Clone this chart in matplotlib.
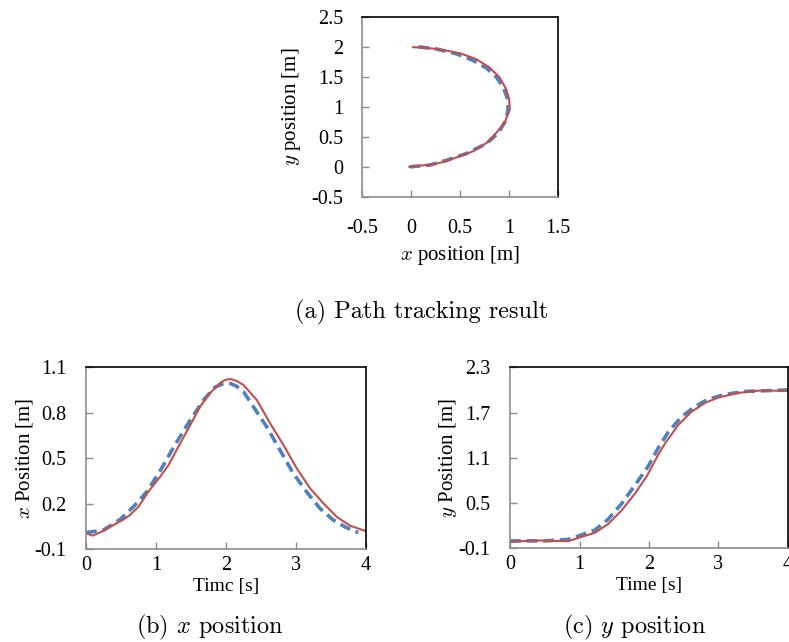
import numpy as np
import matplotlib
matplotlib.use("Agg")
import matplotlib.pyplot as plt

plt.rcParams['font.family'] = ['Liberation Serif', 'DejaVu Serif']
plt.rcParams['mathtext.fontset'] = 'cm'
plt.rcParams['axes.unicode_minus'] = False

RED = '#C0504D'
BLUE = '#4F81BD'
GREY = '#8c8c8c'

# (a) path: reference (dashed) and measured (solid)
path_ref_x = [-0.017, 0.19, 0.36, 0.56, 0.77, 0.89, 0.965, 0.99, 0.98, 0.94, 0.87, 0.77, 0.63, 0.46, 0.256, 0.05]
path_ref_y = [0.0, 0.03, 0.11, 0.22, 0.39, 0.57, 0.77, 0.96, 1.16, 1.33, 1.50, 1.65, 1.78, 1.89, 1.97, 2.01]
path_act_x = [-0.02, 0.085, 0.22, 0.36, 0.495, 0.63, 0.77, 0.87, 0.955, 1.007, 1.0, 0.97, 0.90, 0.80, 0.665, 0.495, 0.32, 0.154, 0.017]
path_act_y = [0.0, 0.02, 0.04, 0.095, 0.18, 0.26, 0.40, 0.57, 0.74, 0.96, 1.13, 1.30, 1.50, 1.66, 1.80, 1.90, 1.955, 1.99, 2.0]

# (b) x position vs time
xr_t = [0.0, 0.25, 0.49, 0.68, 0.87, 1.08, 1.27, 1.49, 1.68, 1.84, 1.95, 2.01, 2.06, 2.15, 2.25, 2.39, 2.58, 2.77, 2.96, 3.15, 3.34, 3.53, 3.72, 3.89]
xr_v = [0.008, 0.025, 0.096, 0.18, 0.278, 0.433, 0.587, 0.752, 0.884, 0.968, 0.99, 0.996, 0.994, 0.975, 0.939, 0.84, 0.708, 0.554, 0.40, 0.278, 0.169, 0.092, 0.041, 0.008]
xa_t = [0.0, 0.095, 0.25, 0.39, 0.52, 0.63, 0.75, 0.89, 1.06, 1.18, 1.32, 1.49, 1.63, 1.77, 1.91, 1.98, 2.06, 2.15, 2.25, 2.44, 2.63, 2.82, 3.01, 3.2, 3.39, 3.58, 3.77, 3.99]
xa_v = [0.004, -0.012, 0.02, 0.058, 0.09, 0.125, 0.179, 0.278, 0.378, 0.455, 0.576, 0.719, 0.84, 0.928, 0.995, 1.015, 1.023, 1.01, 0.983, 0.884, 0.73, 0.587, 0.433, 0.301, 0.202, 0.113, 0.054, 0.019]

# (c) y position vs time
yr_t = [0.0, 0.5, 0.84, 1.03, 1.22, 1.41, 1.61, 1.80, 1.99, 2.13, 2.28, 2.47, 2.66, 2.85, 3.09, 3.38, 4.0]
yr_v = [0.0, 0.0, 0.02, 0.08, 0.143, 0.285, 0.497, 0.74, 0.99, 1.226, 1.446, 1.645, 1.78, 1.876, 1.94, 1.98, 2.0]
ya_t = [0.0, 0.36, 0.84, 1.03, 1.22, 1.41, 1.61, 1.80, 1.97, 2.13, 2.23, 2.42, 2.61, 2.81, 3.0, 3.28, 3.57, 4.0]
ya_v = [-0.012, 0.006, -0.003, 0.054, 0.107, 0.222, 0.408, 0.63, 0.86, 1.137, 1.29, 1.535, 1.71, 1.83, 1.90, 1.96, 1.99, 1.99]


def style_axes(ax, xpad, ypad):
    for s in ('left', 'bottom'):
        ax.spines[s].set_color(GREY)
        ax.spines[s].set_linewidth(1.2)
    for s in ('top', 'right'):
        ax.spines[s].set_color('black')
        ax.spines[s].set_linewidth(1.2)
    ax.tick_params(direction='in', length=5, width=1.0, color=GREY, labelsize=14.5)
    ax.tick_params(axis='x', pad=xpad)
    ax.tick_params(axis='y', pad=ypad)


fig = plt.figure(figsize=(7.89, 6.42), dpi=100)

# top: path tracking
ax1 = fig.add_axes([0.4594, 0.6935, 0.2478, 0.2796])
ax1.plot(path_ref_x, path_ref_y, color=BLUE, lw=2.6, ls=(0, (3, 1.6)))
ax1.plot(path_act_x, path_act_y, color=RED, lw=1.5)
ax1.set_xlim(-0.5, 1.5)
ax1.set_ylim(-0.5, 2.5)
ax1.set_xticks([-0.5, 0, 0.5, 1, 1.5])
ax1.set_xticklabels(['-0.5', '0', '0.5', '1', '1.5'])
ax1.set_yticks([-0.5, 0, 0.5, 1, 1.5, 2, 2.5])
ax1.set_yticklabels(['-0.5', '0', '0.5', '1', '1.5', '2', '2.5'])
style_axes(ax1, 16, 14)
ax1.set_xlabel(r'$\it{x}$ position [m]', fontsize=15, labelpad=4)
ax1.set_ylabel(r'$\it{y}$ position [m]', fontsize=15, labelpad=6)

# bottom left: x position
ax2 = fig.add_axes([0.109, 0.1449, 0.3549, 0.283])
ax2.plot(xr_t, xr_v, color=BLUE, lw=2.6, ls=(0, (3, 1.6)))
ax2.plot(xa_t, xa_v, color=RED, lw=1.5)
ax2.set_xlim(0, 4)
ax2.set_ylim(-0.1, 1.1)
ax2.set_xticks([0, 1, 2, 3, 4])
ax2.set_yticks([-0.1, 0.2, 0.5, 0.8, 1.1])
ax2.set_yticklabels(['-0.1', '0.2', '0.5', '0.8', '1.1'])
style_axes(ax2, 5, 14)
ax2.set_xlabel('Timc [s]', fontsize=14, labelpad=2)
ax2.set_ylabel(r'$\it{x}$ Position [m]', fontsize=15, labelpad=0)

# bottom right: y position
ax3 = fig.add_axes([0.6464, 0.1457, 0.3523, 0.2822])
ax3.plot(yr_t, yr_v, color=BLUE, lw=2.6, ls=(0, (3, 1.6)))
ax3.plot(ya_t, ya_v, color=RED, lw=1.5)
ax3.set_xlim(0, 4)
ax3.set_ylim(-0.1, 2.3)
ax3.set_xticks([0, 1, 2, 3, 4])
ax3.set_yticks([-0.1, 0.5, 1.1, 1.7, 2.3])
ax3.set_yticklabels(['-0.1', '0.5', '1.1', '1.7', '2.3'])
style_axes(ax3, 5, 14)
ax3.set_xlabel('Time [s]', fontsize=14, labelpad=2)
ax3.set_ylabel(r'$\it{y}$ Position [m]', fontsize=15, labelpad=0)

# captions
cap = dict(fontsize=17.5, family='cmr10', ha='center', va='center')
fig.text(421.7 / 789, 1 - 312 / 642, '(a) Path tracking result', **cap)
fig.text(210 / 789, 1 - 627 / 642, r'(b) $x$ position', **cap)
fig.text(635 / 789, 1 - 627 / 642, r'(c) $y$ position', **cap)

fig.savefig('out.png', dpi=100)
